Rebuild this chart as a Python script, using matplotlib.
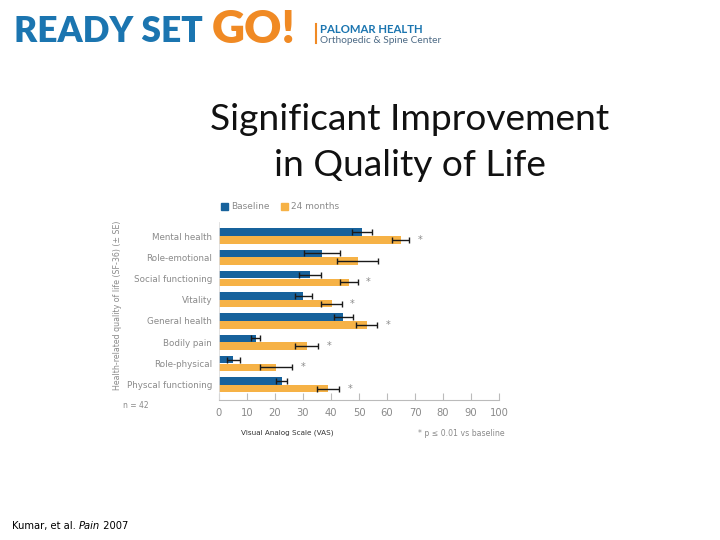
import matplotlib
matplotlib.use("Agg")
import matplotlib.pyplot as plt
import numpy as np

categories = ["Mental health", "Role-emotional", "Social functioning", "Vitality",
              "General health", "Bodily pain", "Role-physical", "Physcal functioning"]
baseline = [51.2, 36.7, 32.5, 30.1, 44.4, 13.1, 5.1, 22.4]
baseline_se = [3.6, 6.4, 3.9, 3.1, 3.4, 1.6, 2.4, 2.0]
months24 = [64.9, 49.5, 46.4, 40.2, 52.7, 31.3, 20.4, 39.0]
months24_se = [3.0, 7.2, 3.1, 3.6, 3.8, 4.2, 5.8, 4.0]
significant = [True, False, True, True, True, True, True, True]
xticks = [0, 10, 20, 30, 40, 50, 60, 70, 80, 90, 100]

BLUE = "#17629c"
ORANGE = "#f6b246"
GRAY = "#8a8a8a"

fig = plt.figure(figsize=(7.2, 5.4), dpi=100)
W, H = 720, 540

def fx(px):
    return px / W

def fy(py):
    return 1 - py / H

# Header
fig.text(fx(14), fy(42), "READY SET", color="#1b75b0", fontsize=25.5, fontweight="heavy",
         family="Lato", va="baseline", ha="left")
fig.text(fx(212), fy(43), "GO!", color="#f08a24", fontsize=33, fontweight="heavy",
         family="Lato", va="baseline", ha="left")
fig.add_artist(plt.Line2D([fx(316), fx(316)], [fy(24), fy(43)], color="#f08a24", lw=1.5))
fig.text(fx(320), fy(33), "PALOMAR HEALTH", color="#1b75b0", fontsize=8.2, fontweight="bold",
         family="Lato", va="baseline", ha="left")
fig.text(fx(320), fy(43), "Orthopedic & Spine Center", color="#4d6a85", fontsize=7.3,
         family="Lato", va="baseline", ha="left")

# Title
fig.text(fx(410), fy(130), "Significant Improvement", fontsize=26.7, family="Lato",
         ha="center", va="baseline", color="#111111")
fig.text(fx(410), fy(176), "in Quality of Life", fontsize=26.7, family="Lato",
         ha="center", va="baseline", color="#111111")

# Chart axes
ax = fig.add_axes([fx(219), fy(400), fx(499) - fx(219), (400 - 222) / H])
y = np.arange(len(categories))
h = 0.37
err_kw = dict(ecolor="#1a1a1a", elinewidth=1.0, capsize=2.5, capthick=1.0)
ax.barh(y - h / 2, baseline, height=h * 0.95, color=BLUE, xerr=baseline_se, error_kw=err_kw)
ax.barh(y + h / 2, months24, height=h * 0.95, color=ORANGE, xerr=months24_se, error_kw=err_kw)
for i, s in enumerate(significant):
    if s:
        ax.text(months24[i] + months24_se[i] + 3, y[i] + h / 2, "*", fontsize=7,
                color=GRAY, va="center", ha="left")
ax.set_xlim(0, 100)
ax.set_ylim(7.72, -0.66)
ax.set_yticks(y)
ax.set_yticklabels(categories, fontsize=6.3, color=GRAY)
ax.set_xticks(xticks)
ax.set_xticklabels([str(v) for v in xticks], fontsize=7.2, color=GRAY)
ax.tick_params(axis="y", length=0, pad=5)
ax.tick_params(axis="x", direction="in", length=5, color="#bbbbbb", pad=6)
for side in ["top", "right"]:
    ax.spines[side].set_visible(False)
ax.spines["bottom"].set_color("#bbbbbb")
ax.spines["left"].set_color("#dddddd")
ax.spines["left"].set_linewidth(0.6)
ax.set_facecolor("white")

# Legend
fig.patches.append(plt.Rectangle((fx(221), fy(210)), 7 / W, 7 / H, color=BLUE, transform=fig.transFigure))
fig.text(fx(231), fy(206.5), "Baseline", fontsize=6.5, color=GRAY, va="center", ha="left")
fig.patches.append(plt.Rectangle((fx(281), fy(210)), 7 / W, 7 / H, color=ORANGE, transform=fig.transFigure))
fig.text(fx(291), fy(206.5), "24 months", fontsize=6.5, color=GRAY, va="center", ha="left")

# Y-axis label
fig.text(fx(117), fy(305), "Health-related quality of life (SF-36) (± SE)", rotation=90,
         fontsize=5.7, color=GRAY, ha="center", va="center")

fig.text(fx(123), fy(405), "n = 42", fontsize=5.5, color=GRAY, va="center", ha="left")
fig.text(fx(241), fy(433), "Visual Analog Scale (VAS)", fontsize=5.2, color="#333333", va="center", ha="left")
fig.text(fx(505), fy(434), "* p ≤ 0.01 vs baseline", fontsize=5.6, color=GRAY, va="center", ha="right")

# Citation
FS = 7.2
t0 = fig.text(fx(12), fy(529), "Kumar, et al. ", fontsize=FS, color="black", va="baseline", ha="left")
fig.canvas.draw()
r = t0.get_window_extent()
t2 = fig.text(r.x1 / W, fy(529), "Pain", fontsize=FS, style="italic", va="baseline", ha="left")
fig.canvas.draw()
r2 = t2.get_window_extent()
fig.text(r2.x1 / W, fy(529), " 2007", fontsize=FS, va="baseline", ha="left")

fig.savefig("out.png", dpi=100)
